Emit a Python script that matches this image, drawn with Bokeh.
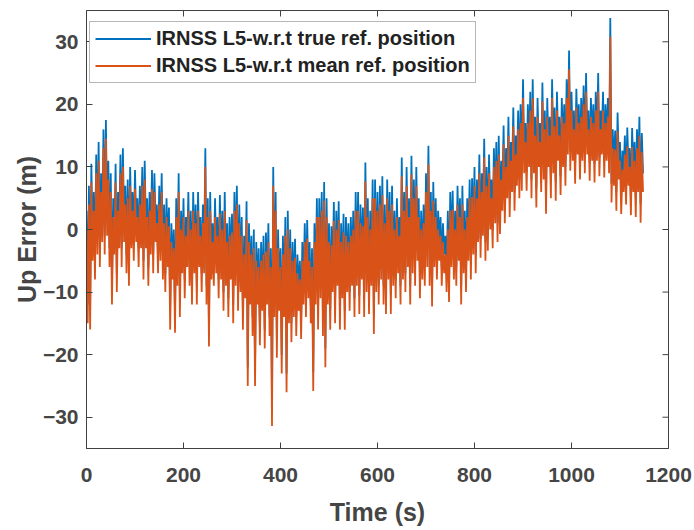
from bokeh.plotting import figure
from bokeh.models import Range1d, FixedTicker, Legend, LegendItem, ColumnDataSource
from bokeh.embed import file_html
from bokeh.resources import INLINE

time_s = [i * 2.5 for i in range(460)]

up_err_true = [
    3, -12, 7, -13, 10.5, -2, 6, -5, 12, -1, 14, -3, 9, 1, 16, -1, 17.5, 2, 11, -3,
    9, -9, 5, -1, 10.5, -7, 6, 0, 12, -3, 13, 1, 7, -4, 8, -6, 10, 0, 6, -2,
    9.5, 1, 5, -3, 7, 0, 10, -5, 11, 0, 5, -6, 6, -1, 9.5, -4, 9, 1, 4, -4,
    7, -2, 9, -5, 4, -7, 5, -3, 3.5, -13, 1, -5, 0, -13.5, 5, -6, 9, -11, 3, -4,
    5, -8, 2, -3, 6, -6, 3, -9, 6, -4, 4, -9, 6, -3, 2, -7, 4, -4, 13, -9,
    5, -15.7, 6, -5, 1, -6, 5, -4, 2, -8, 5.5, -5, 3, -10, 6, -6, 1, -11, 2, -5,
    2.5, -12, 6, -6, 7, -10, 4, -7, 2, -13, -1, -8, 4.5, -22, 1, -9, -1, -14, 0, -22,
    -2, -9, -3, -15.5, -2, -10, -1, -16, -0.5, -9, 1, -14, -3, -28.4, 10, -11, 6, -17.5, 0, -10,
    -3, -20, -1, -11, 2, -23, 3, -12, 0, -15, -2, -11, -1.5, -14, -4, -10, -5, -14.5, -2, -9,
    1, -11, 1.5, -8, -2, -12, -3, -22.8, 1, -9, 5, -13, 5, -8, 6, -14, 7.6, -19, 5, -9,
    1, -13, 0.5, -7, 4.4, -12, 3, -6, 4.5, -13, 1, -8, 2.5, -13, 2, -7, 1, -10, 2, -6,
    3, -11, 6, -6, 6, -10.5, 4, -5, 3.5, -11, 10.7, -7, 5, -10.5, 3, -6, 8, -13.7, 8, -7,
    6, -9, 7, -5, 8.5, -9, 4, -10.5, 8, -5, 6, -10.5, 7, -6, 3, -8, 5, -4, 2, -9,
    11.5, -5, 6, -7, 10, -3, 5, -9, 11.8, -4, 8, -6, 10, -2, 5, -8, 3, -5, 4, -6,
    9, -3, 13.4, -6, 6, -9.3, 7.6, -3, 5, -5, 3, -2, 2, -6, 1, -4, -1, -7, 3, -8.6,
    6, -3, 6.2, -5, 3, -6, 7, -2, 5, -9, 7, -4, 3, -7, 5, -2, 8, -5, 8.2, -1,
    10, -4, 8, 1, 12, -1.5, 9, 2, 14.5, -2, 10, -0.4, 12, 3, 8, 0, 13, 4, 14, 1,
    15, 2.3, 11, 6, 16.6, 4, 13, 8, 18, 5, 14, 9, 19.5, 6, 15, 10, 19, 8, 20, 9.2,
    24, 12, 17, 9.2, 20, 13, 22, 8, 24, 12, 18, 6.5, 21, 13, 17, 9, 23.5, 11, 19, 5.5,
    21, 13, 18, 8, 24, 12, 19.5, 7.6, 22, 14, 18, 8.5, 21, 13, 20, 10, 24, 15, 28.6, 12.4,
    22, 14, 19, 10.3, 22.5, 15, 20, 11, 21, 14, 23, 12, 25, 15, 19, 10.8, 21, 14, 20, 10.5,
    22, 14, 25, 11.5, 19, 15, 22, 11.3, 20, 14, 21, 12, 33.8, 7.3, 16, 10, 15.8, 6, 18.7, 11,
    14, 5.5, 12.6, 9, 15, 7, 16.3, 10, 13, 5.3, 16.2, 9, 14, 5, 16, 9, 18, 4.1, 15.4, 9,
]

up_err_mean = [
    0, -15, 4, -16, 7.5, -5, 3, -8, 9, -4, 11, -6, 6, -2, 13, -4, 14.5, -1, 8, -6,
    6, -12, 2, -4, 7.5, -10, 3, -3, 9, -6, 10, -2, 4, -7, 5, -9, 7, -3, 3, -5,
    6.5, -2, 2, -6, 4, -3, 7, -8, 8, -3, 2, -9, 3, -4, 6.5, -7, 6, -2, 1, -7,
    4, -5, 6, -8, 1, -10, 2, -6, 0.5, -16, -2, -8, -3, -16.5, 2, -9, 6, -14, 0, -7,
    2, -11, -1, -6, 3, -9, 0, -12, 3, -7, 1, -12, 3, -6, -1, -10, 1, -7, 10, -12,
    2, -18.7, 3, -8, -2, -9, 2, -7, -1, -11, 2.5, -8, 0, -13, 3, -9, -2, -14, -1, -8,
    -0.5, -15, 3, -9, 4, -13, 1, -10, -1, -16, -4, -11, 1.5, -25, -2, -12, -4, -17, -3, -25,
    -5, -12, -6, -18.5, -5, -13, -4, -19, -3.5, -12, -2, -17, -6, -31.4, 7, -14, 3, -20.5, -3, -13,
    -6, -23, -4, -14, -1, -26, 0, -15, -3, -18, -5, -14, -4.5, -17, -7, -13, -8, -17.5, -5, -12,
    -2, -14, -1.5, -11, -5, -15, -6, -25.8, -2, -12, 2, -16, 2, -11, 3, -17, 4.6, -22, 2, -12,
    -2, -16, -2.5, -10, 1.4, -15, 0, -9, 1.5, -16, -2, -11, -0.5, -16, -1, -10, -2, -13, -1, -9,
    0, -14, 3, -9, 3, -13.5, 1, -8, 0.5, -14, 7.7, -10, 2, -13.5, 0, -9, 5, -16.7, 5, -10,
    3, -12, 4, -8, 5.5, -12, 1, -13.5, 5, -8, 3, -13.5, 4, -9, 0, -11, 2, -7, -1, -12,
    8.5, -8, 3, -10, 7, -6, 2, -12, 8.8, -7, 5, -9, 7, -5, 2, -11, 0, -8, 1, -9,
    6, -6, 10.4, -9, 3, -12.3, 4.6, -6, 2, -8, 0, -5, -1, -9, -2, -7, -4, -10, 0, -11.6,
    3, -6, 3.2, -8, 0, -9, 4, -5, 2, -12, 4, -7, 0, -10, 2, -5, 5, -8, 5.2, -4,
    7, -7, 5, -2, 9, -4.5, 6, -1, 11.5, -5, 7, -3.4, 9, 0, 5, -3, 10, 1, 11, -2,
    12, -0.7, 8, 3, 13.6, 1, 10, 5, 15, 2, 11, 6, 16.5, 3, 12, 7, 16, 5, 17, 6.2,
    21, 9, 14, 6.2, 17, 10, 19, 5, 21, 9, 15, 3.5, 18, 10, 14, 6, 20.5, 8, 16, 2.5,
    18, 10, 15, 5, 21, 9, 16.5, 4.6, 19, 11, 15, 5.5, 18, 10, 17, 7, 21, 12, 25.6, 9.4,
    19, 11, 16, 7.3, 19.5, 12, 17, 8, 18, 11, 20, 9, 22, 12, 16, 7.8, 18, 11, 17, 7.5,
    19, 11, 22, 8.5, 16, 12, 19, 8.3, 17, 11, 18, 9, 30.8, 4.3, 13, 7, 12.8, 3, 15.7, 8,
    11, 2.5, 9.6, 6, 12, 4, 13.3, 7, 10, 2.3, 13.2, 6, 11, 2, 13, 6, 15, 1.1, 12.4, 6,
]

x_ticks = [0, 200, 400, 600, 800, 1000, 1200]
y_ticks = [-30, -20, -10, 0, 10, 20, 30]
x_lim = (0, 1200)
y_lim = (-35, 35)
series_labels = ["IRNSS L5-w.r.t true ref. position",
                 "IRNSS L5-w.r.t mean ref. position"]

n = min(len(time_s), len(up_err_true), len(up_err_mean))
src = ColumnDataSource(dict(t=time_s[:n], true=up_err_true[:n], mean=up_err_mean[:n]))

FONT = "Liberation Sans"
AX = "#404040"
TXT = "#454545"

p = figure(width=694, height=530, output_backend="svg", toolbar_location=None,
           x_range=Range1d(*x_lim), y_range=Range1d(*y_lim),
           min_border_left=86, min_border_right=26, min_border_top=10,
           min_border_bottom=82)
p.xgrid.visible = False
p.ygrid.visible = False
p.outline_line_color = AX
p.outline_line_width = 1
p.outline_line_alpha = 1
p.background_fill_color = "white"
p.border_fill_color = "white"

r_true = p.line("t", "true", source=src, line_color="#0072BD", line_width=1.8)
r_mean = p.line("t", "mean", source=src, line_color="#D95319", line_width=1.8)

# inward ticks on the top and right edges (box style)
p.ray(x=x_ticks, y=[y_lim[1]] * len(x_ticks), length=6, length_units="screen",
      angle=-90, angle_units="deg", line_color=AX, line_width=1)
p.ray(x=[x_lim[1]] * len(y_ticks), y=y_ticks, length=6, length_units="screen",
      angle=180, angle_units="deg", line_color=AX, line_width=1)

p.xaxis.ticker = FixedTicker(ticks=x_ticks)
p.yaxis.ticker = FixedTicker(ticks=y_ticks)
p.xaxis.axis_label = "Time (s)"
p.yaxis.axis_label = "Up Error (m)"

for ax in (p.xaxis[0], p.yaxis[0]):
    ax.axis_line_color = AX
    ax.axis_line_width = 1
    ax.major_tick_in = 6
    ax.major_tick_out = 0
    ax.major_tick_line_color = AX
    ax.minor_tick_line_color = None
    ax.major_label_text_font = FONT
    ax.major_label_text_font_style = "bold"
    ax.major_label_text_font_size = "21px"
    ax.major_label_text_color = TXT
    ax.axis_label_text_font = FONT
    ax.axis_label_text_font_style = "bold"
    ax.axis_label_text_font_size = "25px"
    ax.axis_label_text_color = TXT
p.xaxis.major_label_standoff = 19
p.xaxis.axis_label_standoff = 13
p.yaxis.major_label_standoff = 8
p.yaxis.axis_label_standoff = -1

legend = Legend(items=[LegendItem(label=series_labels[0], renderers=[r_true]),
                       LegendItem(label=series_labels[1], renderers=[r_mean])],
                location=(3, 365))
legend.label_text_font = FONT
legend.label_text_font_style = "bold"
legend.label_text_font_size = "20px"
legend.label_text_color = "#222222"
legend.glyph_width = 56
legend.glyph_height = 23
legend.label_height = 23
legend.label_standoff = 5
legend.padding = 5
legend.spacing = 4
legend.margin = 0
legend.border_line_color = "#707070"
legend.border_line_width = 1
legend.background_fill_color = "white"
legend.background_fill_alpha = 1.0
p.add_layout(legend)

open("out.html", "w").write(file_html(p, INLINE))
